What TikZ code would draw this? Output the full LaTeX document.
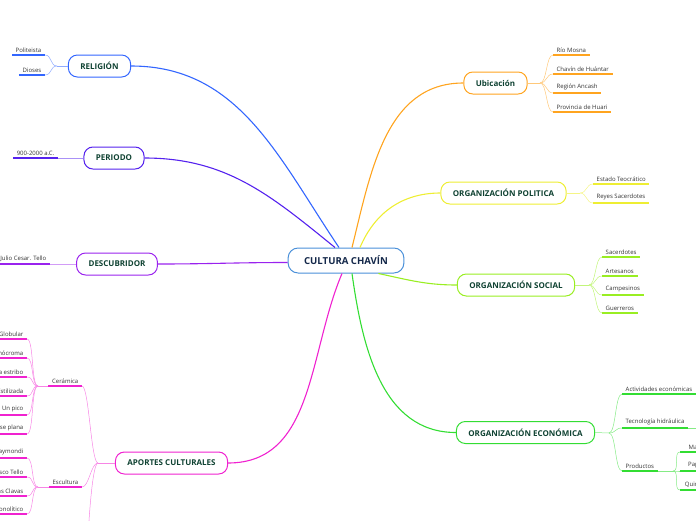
\documentclass[tikz,border=0pt]{standalone}
\usepackage{fontspec}
\setmainfont{Open Sans}
\definecolor{relC}{HTML}{3366FF}
\definecolor{perC}{HTML}{5522EE}
\definecolor{desC}{HTML}{9A22EE}
\definecolor{apoC}{HTML}{F022D0}
\definecolor{ubiC}{HTML}{FFA41F}
\definecolor{polC}{HTML}{EEEE33}
\definecolor{socC}{HTML}{99EE22}
\definecolor{ecoC}{HTML}{33DD33}
\definecolor{midC}{HTML}{4A90D9}
\definecolor{boxText}{HTML}{0F4232}
\definecolor{midText}{HTML}{14284A}
\definecolor{leafText}{HTML}{333333}

\begin{document}
\begin{tikzpicture}[x=1pt, y=1pt,
  hub/.style={draw, line width=1pt, rounded corners=9pt, fill=white,
              minimum height=22pt, inner xsep=12pt, text=boxText,
              font=\bfseries\fontsize{8}{9.5}\selectfont},
  root/.style={hub, minimum height=25pt, inner xsep=16pt, rounded corners=10pt,
               draw=midC, text=midText, font=\bfseries\fontsize{9.6}{11}\selectfont},
  leaf/.style={inner xsep=3.5pt, inner ysep=2.5pt, text=leafText,
               font=\fontsize{6}{7}\selectfont},
  branch/.style={line width=1.1pt},
  twig/.style={line width=0.5pt, out=0, in=180, distance=7pt},
  ul/.style={line width=1.6pt}
]
  \useasboundingbox (0,0) rectangle (696,-520);
  \clip (0,0) rectangle (696,-520);

  \node[root] (chavin) at (346,-260.5) {CULTURA CHAVÍN};
  \node[hub, draw=relC] (rel) at (99.5,-66)    {RELIGIÓN};
  \node[hub, draw=perC] (per) at (114,-158)    {PERIODO};
  \node[hub, draw=desC] (des) at (117,-264)    {DESCUBRIDOR};
  \node[hub, draw=apoC] (apo) at (171.5,-463)  {APORTES CULTURALES};
  \node[hub, draw=ubiC] (ubi) at (495.5,-83)   {Ubicación};
  \node[hub, draw=polC] (pol) at (503.5,-193)  {ORGANIZACIÓN POLITICA};
  \node[hub, draw=socC] (soc) at (516,-285)    {ORGANIZACIÓN SOCIAL};
  \node[hub, draw=ecoC] (eco) at (525.5,-432.5){ORGANIZACIÓN ECONÓMICA};

  \draw[branch, relC] ([xshift=-7pt]chavin.north)  to[out=124, in=0]   (rel.east);
  \draw[branch, perC] ([xshift=-11pt]chavin.north) to[out=141, in=0]   (per.east);
  \draw[branch, desC] ([yshift=-2pt]chavin.west)   to[out=180, in=0]   (des.east);
  \draw[branch, apoC] ([xshift=-4pt]chavin.south)  to[out=-113, in=0]  (apo.east);
  \draw[branch, ubiC] ([xshift=6pt]chavin.north)   to[out=76, in=180]  (ubi.west);
  \draw[branch, polC] ([xshift=14pt]chavin.north)  to[out=67, in=180]  (pol.west);
  \draw[branch, socC] ([xshift=-26pt]chavin.south east) to[out=-12, in=180] (soc.west);
  \draw[branch, ecoC] ([xshift=6pt]chavin.south)   to[out=-82, in=180] (eco.west);

  % RELIGIÓN
  \coordinate (relJ) at (57,-66);
  \draw[twig, relC!55] (relJ) -- (rel.west);
  \foreach \n/\t/\y in {poli/Politeista/55, dios/Dioses/75}{
    \node[leaf, anchor=south east] (\n) at (45,-\y) {\t};
    \draw[ul, relC] (\n.south west) -- (\n.south east);
    \draw[twig, relC!55] (\n.south east) to (relJ);
  }

  % PERIODO, DESCUBRIDOR
  \node[leaf, anchor=south east] (era) at (58,-158) {900-2000 a.C.};
  \draw[ul, perC] (era.south west) -- (era.south east);
  \draw[twig, perC!50] (era.south east) -- (per.west);
  \node[leaf, anchor=south east] (tello) at (50,-264) {Julio Cesar. Tello};
  \draw[ul, desC] (tello.south west) -- (tello.south east);
  \draw[twig, desC!45] (tello.south east) -- (des.west);

  % APORTES CULTURALES
  \coordinate (apoJ) at (98,-463);
  \coordinate (apoOff) at (87,-560);
  \draw[twig, apoC!55] (apoJ) -- (apo.west);
  \node[leaf, anchor=south east] (cer) at (82,-386) {Cerámica};
  \node[leaf, anchor=south east] (esc) at (82,-487) {Escultura};
  \foreach \n in {cer, esc}{
    \draw[ul, apoC] (\n.south west) -- (\n.south east);
    \draw[twig, apoC!55] (\n.south east) to (apoJ);
  }
  \draw[twig, apoC!55] (apoOff) to[out=90, in=180] (apoJ);

  \coordinate (cerJ) at (38,-386);
  \draw[twig, apoC!55] (cerJ) -- (cer.south west);
  \foreach \n/\t/\y in {glo/Globular/339, mon/Monócroma/358, asa/Asa estribo/377,
                        est/Estilizada/396, pico/Un pico/415, base/Base plana/434}{
    \node[leaf, anchor=south east] (\n) at (27,-\y) {\t};
    \draw[ul, apoC] (\n.south west) -- (\n.south east);
    \draw[twig, apoC!55] (\n.south east) to (cerJ);
  }
  \coordinate (escJ) at (38,-487);
  \draw[twig, apoC!55] (escJ) -- (esc.south west);
  \foreach \n/\t/\y in {ray/Estela Raymondi/458, obe/Obelisco Tello/477,
                        cab/Cabezas Clavas/496, lan/Lanzón Monolítico/514}{
    \node[leaf, anchor=south east] (\n) at (27,-\y) {\t};
    \draw[ul, apoC] (\n.south west) -- (\n.south east);
    \draw[twig, apoC!55] (\n.south east) to (escJ);
  }

  % Ubicación
  \coordinate (ubiJ) at (540,-83);
  \draw[twig, ubiC!60] (ubi.east) -- (ubiJ);
  \foreach \n/\t/\y in {rio/Río Mosna/55, hua/Chavín de Huántar/74,
                        anc/Región Ancash/93, hri/Provincia de Huari/112}{
    \node[leaf, anchor=south west] (\n) at (553,-\y) {\t};
    \draw[ul, ubiC] (\n.south west) -- (\n.south east);
    \draw[twig, ubiC!60] (ubiJ) to (\n.south west);
  }

  % ORGANIZACIÓN POLITICA
  \coordinate (polJ) at (580,-193);
  \draw[twig, polC!60] (pol.east) -- (polJ);
  \foreach \n/\t/\y in {teo/Estado Teocrático/184, rey/Reyes Sacerdotes/203}{
    \node[leaf, anchor=south west] (\n) at (593,-\y) {\t};
    \draw[ul, polC] (\n.south west) -- (\n.south east);
    \draw[twig, polC!60] (polJ) to (\n.south west);
  }

  % ORGANIZACIÓN SOCIAL
  \coordinate (socJ) at (589,-285);
  \draw[twig, socC!60] (soc.east) -- (socJ);
  \foreach \n/\t/\y in {sac/Sacerdotes/257, art/Artesanos/276,
                        cam/Campesinos/295, gue/Guerreros/313}{
    \node[leaf, anchor=south west] (\n) at (602,-\y) {\t};
    \draw[ul, socC] (\n.south west) -- (\n.south east);
    \draw[twig, socC!60] (socJ) to (\n.south west);
  }

  % ORGANIZACIÓN ECONÓMICA
  \coordinate (ecoJ) at (609,-433);
  \coordinate (actOff) at (720,-394);
  \coordinate (tecOff) at (720,-428);
  \draw[twig, ecoC!60] (eco.east) -- (ecoJ);
  \foreach \n/\t/\y in {act/Actividades económicas/394, tec/Tecnología hidráulica/428,
                        prod/Productos/471}{
    \node[leaf, anchor=south west] (\n) at (622,-\y) {\t};
    \draw[ul, ecoC] (\n.south west) -- (\n.south east);
    \draw[twig, ecoC!60] (ecoJ) to (\n.south west);
  }
  \draw[ul, ecoC] (act.south east) -- (actOff);
  \draw[twig, ecoC!60] (tec.south east) -- (tecOff);
  \coordinate (prodJ) at (673,-471);
  \draw[twig, ecoC!60] (prod.south east) -- (prodJ);
  \foreach \n/\t/\y in {maiz/Maíz/452, papa/Papa/471, qui/Quinua/490}{
    \node[leaf, anchor=south west, minimum width=30pt, align=left] (\n) at (680,-\y) {\t};
    \draw[ul, ecoC] (\n.south west) -- (\n.south east);
    \draw[twig, ecoC!60] (prodJ) to (\n.south west);
  }
\end{tikzpicture}
\end{document}
